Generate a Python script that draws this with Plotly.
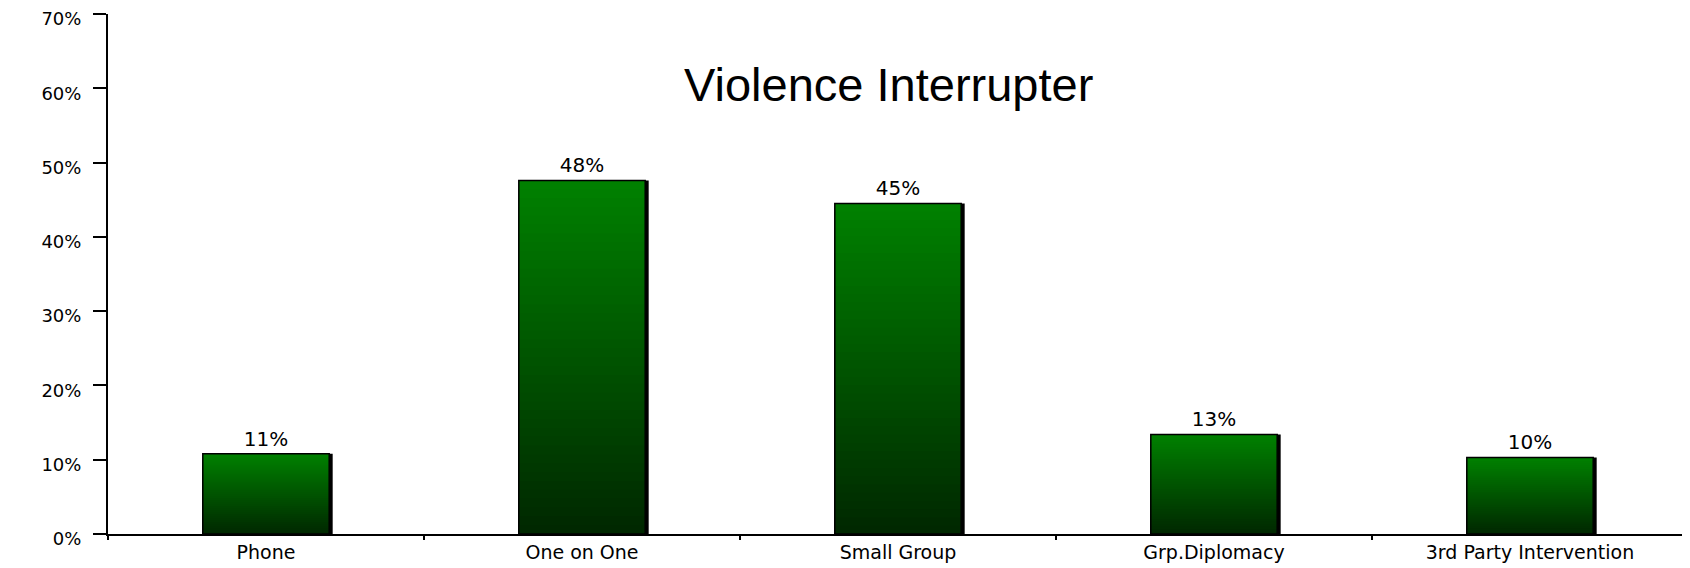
import plotly.graph_objects as go

categories = ["Phone", "One on One", "Small Group", "Grp.Diplomacy", "3rd Party Intervention"]
values = [10.8, 47.6, 44.5, 13.4, 10.3]
value_labels = ["11%", "48%", "45%", "13%", "10%"]
y_ticks = [0, 10, 20, 30, 40, 50, 60, 70]
y_tick_labels = ["0%", "10%", "20%", "30%", "40%", "50%", "60%", "70%"]
title_text = "Violence Interrupter"

BAR_W = 0.4
N = 40
top_rgb = (0, 128, 0)
bot_rgb = (0, 40, 0)

fig = go.Figure()

# shadow (slightly right of each bar)
fig.add_trace(go.Bar(
    x=categories, y=values, width=BAR_W, offset=-BAR_W / 2 + 0.011,
    marker=dict(color="black", line=dict(width=0)), hoverinfo="skip", showlegend=False,
))

# vertical gradient: nested bars, tallest (brightest) first, shorter darker ones on top
for k in range(N):
    frac = (N - k) / N
    t = k / (N - 1)
    r = round(top_rgb[0] + (bot_rgb[0] - top_rgb[0]) * t)
    g = round(top_rgb[1] + (bot_rgb[1] - top_rgb[1]) * t)
    b = round(top_rgb[2] + (bot_rgb[2] - top_rgb[2]) * t)
    fig.add_trace(go.Bar(
        x=categories, y=[v * frac for v in values], width=BAR_W,
        offset=-BAR_W / 2,
        marker=dict(color=f"rgb({r},{g},{b})", line=dict(width=0)),
        hoverinfo="skip", showlegend=False,
    ))

# outline + value labels
fig.add_trace(go.Bar(
    x=categories, y=values, width=BAR_W, offset=-BAR_W / 2,
    marker=dict(color="rgba(0,0,0,0)", line=dict(color="black", width=1.5)),
    text=value_labels, textposition="outside",
    textfont=dict(family="DejaVu Sans", size=20, color="black"),
    hoverinfo="skip", showlegend=False,
))

fig.add_annotation(
    text=title_text, xref="paper", yref="paper", x=0.494, y=0.8635,
    xanchor="center", yanchor="middle", showarrow=False,
    font=dict(family="Liberation Sans, Arial", size=47, color="black"),
)

fig.update_layout(
    width=1690, height=568,
    margin=dict(l=100, r=10, t=6, b=42, autoexpand=False),
    paper_bgcolor="white", plot_bgcolor="white",
    barmode="overlay", bargap=0.6,
    font=dict(family="DejaVu Sans", color="black"),
)
fig.update_xaxes(
    type="category", range=[-0.5, 4.5], automargin=False,
    showline=True, linecolor="black", linewidth=2,
    ticks="outside", tickson="boundaries", ticklen=4, tickwidth=2, tickcolor="black",
    tickfont=dict(family="DejaVu Sans", size=19, color="black"),
    showgrid=False, zeroline=False,
)
fig.update_yaxes(
    range=[0, 70], tickvals=y_ticks, ticktext=y_tick_labels, automargin=False,
    showline=True, linecolor="black", linewidth=2,
    ticks="outside", ticklen=13, tickwidth=2, tickcolor="black",
    tickfont=dict(family="DejaVu Sans", size=18, color="black"),
    showgrid=False, zeroline=False, ticklabelstandoff=8,
    ticklabeloverflow="allow", ticklabelshift=5,
)

fig.write_html("out.html")
